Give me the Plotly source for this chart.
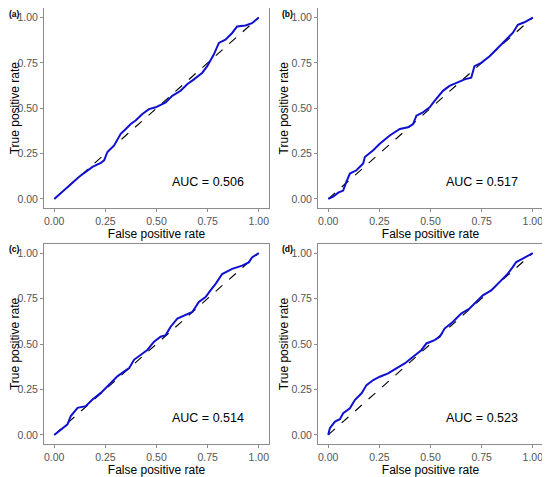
import plotly.graph_objects as go

# ROC curves
fpr_a = [0, 0.057, 0.122, 0.187, 0.228, 0.244, 0.26, 0.293, 0.325, 0.35, 0.374, 0.398, 0.431,
         0.463, 0.496, 0.545, 0.577, 0.618, 0.65, 0.683, 0.724, 0.748, 0.78, 0.805, 0.837,
         0.87, 0.894, 0.935, 0.967, 1]
tpr_a = [0, 0.058, 0.122, 0.177, 0.199, 0.213, 0.259, 0.295, 0.359, 0.386, 0.413, 0.432, 0.468,
         0.495, 0.505, 0.532, 0.568, 0.596, 0.632, 0.659, 0.696, 0.732, 0.796, 0.86, 0.878,
         0.915, 0.951, 0.956, 0.969, 1]

fpr_b = [0, 0.024, 0.049, 0.073, 0.089, 0.106, 0.138, 0.171, 0.179, 0.22, 0.252, 0.301, 0.35,
         0.39, 0.415, 0.431, 0.463, 0.496, 0.52, 0.561, 0.593, 0.634, 0.667, 0.699, 0.715,
         0.748, 0.789, 0.829, 0.87, 0.902, 0.927, 0.959, 1]
tpr_b = [0, 0.013, 0.035, 0.046, 0.095, 0.14, 0.158, 0.195, 0.231, 0.268, 0.304, 0.35, 0.386,
         0.395, 0.413, 0.459, 0.477, 0.505, 0.541, 0.596, 0.623, 0.641, 0.659, 0.668, 0.732,
         0.75, 0.787, 0.832, 0.878, 0.915, 0.96, 0.974, 1]

fpr_c = [0, 0.033, 0.065, 0.081, 0.114, 0.154, 0.187, 0.228, 0.268, 0.309, 0.341, 0.366, 0.39,
         0.423, 0.455, 0.488, 0.52, 0.545, 0.569, 0.602, 0.642, 0.675, 0.707, 0.74, 0.764,
         0.789, 0.821, 0.87, 0.919, 0.951, 0.967, 1]
tpr_c = [0, 0.031, 0.058, 0.104, 0.149, 0.158, 0.195, 0.231, 0.276, 0.322, 0.349, 0.367, 0.413,
         0.44, 0.467, 0.513, 0.54, 0.549, 0.595, 0.64, 0.658, 0.676, 0.731, 0.758, 0.795,
         0.831, 0.885, 0.913, 0.931, 0.949, 0.976, 1]

fpr_d = [0, 0.008, 0.033, 0.057, 0.073, 0.106, 0.13, 0.163, 0.187, 0.22, 0.252, 0.293, 0.333,
         0.374, 0.415, 0.455, 0.48, 0.52, 0.545, 0.569, 0.61, 0.65, 0.691, 0.724, 0.756,
         0.797, 0.837, 0.878, 0.902, 0.919, 0.951, 1]
tpr_d = [0, 0.037, 0.073, 0.086, 0.119, 0.146, 0.192, 0.229, 0.274, 0.302, 0.32, 0.338, 0.366,
         0.393, 0.43, 0.466, 0.503, 0.521, 0.539, 0.585, 0.622, 0.667, 0.695, 0.731, 0.768,
         0.795, 0.841, 0.887, 0.923, 0.951, 0.969, 1]

panel_labels = ["(a)", "(b)", "(c)", "(d)"]
auc_labels = ["AUC = 0.506", "AUC = 0.517", "AUC = 0.514", "AUC = 0.523"]
tick_vals = [0, 0.25, 0.5, 0.75, 1]
tick_text = ["0.00", "0.25", "0.50", "0.75", "1.00"]

curves = [(fpr_a, tpr_a), (fpr_b, tpr_b), (fpr_c, tpr_c), (fpr_d, tpr_d)]

W, H = 550, 477
OFF = 8  # page body margin shifts the figure by this much


def px_x(p):
    return (p - OFF) / W


def px_y(p):
    return 1 - (p - OFF) / H


# panel frames in page pixels: (left, right), (top, bottom)
x_doms = [[px_x(44), px_x(269)], [px_x(318), px_x(543)],
          [px_x(44), px_x(269)], [px_x(318), px_x(543)]]
y_doms = [[px_y(208), min(px_y(8), 0.999)], [px_y(208), min(px_y(8), 0.999)],
          [px_y(444), px_y(244)], [px_y(444), px_y(244)]]
label_pos = [(8, 8), (281, 8), (8, 243), (281, 243)]

font_family = "Arial, Liberation Sans, sans-serif"
frame_col = "#8c8c8c"

fig = go.Figure()
layout = {}
annotations = []

for i, (fx, ty) in enumerate(curves):
    n = i + 1
    xa = "x" if n == 1 else f"x{n}"
    ya = "y" if n == 1 else f"y{n}"

    # chance line
    fig.add_trace(go.Scatter(x=[0, 1], y=[0, 1], mode="lines", xaxis=xa, yaxis=ya,
                             line=dict(color="black", width=1.1, dash="dash"),
                             showlegend=False, hoverinfo="skip"))
    # ROC curve
    fig.add_trace(go.Scatter(x=fx, y=ty, mode="lines", xaxis=xa, yaxis=ya,
                             line=dict(color="#1010d0", width=2),
                             showlegend=False))

    axis_common = dict(range=[-0.05, 1.05], tickvals=tick_vals, ticktext=tick_text,
                       showgrid=False, zeroline=False, showline=True, mirror=True,
                       linecolor=frame_col, linewidth=1, ticks="outside", ticklen=3,
                       tickcolor=frame_col, tickfont=dict(size=10.5, color="#555555"),
                       automargin=False)
    layout["xaxis" if n == 1 else f"xaxis{n}"] = dict(
        axis_common, domain=x_doms[i], anchor=ya,
        title=dict(text="False positive rate", font=dict(size=12, color="black"), standoff=0))
    layout["yaxis" if n == 1 else f"yaxis{n}"] = dict(
        axis_common, domain=y_doms[i], anchor=xa,
        title=dict(text="True positive rate", font=dict(size=12, color="black"), standoff=0))

    annotations.append(dict(x=0.75, y=0.095, xref=xa, yref=ya, text=auc_labels[i],
                            showarrow=False, font=dict(size=12.5, color="black")))
    lx, ly = label_pos[i]
    annotations.append(dict(x=max(px_x(lx), 0), y=px_y(ly), xref="paper",
                            yref="paper", text=f"<b>{panel_labels[i]}</b>", showarrow=False,
                            xanchor="left", yanchor="top", borderpad=0,
                            font=dict(size=8.5, color="black")))

fig.update_layout(**layout)
fig.update_layout(
    annotations=annotations,
    width=W, height=H,
    margin=dict(l=0, r=0, t=0, b=0),
    paper_bgcolor="white", plot_bgcolor="white",
    font=dict(family=font_family),
)

fig.write_html("out.html")
